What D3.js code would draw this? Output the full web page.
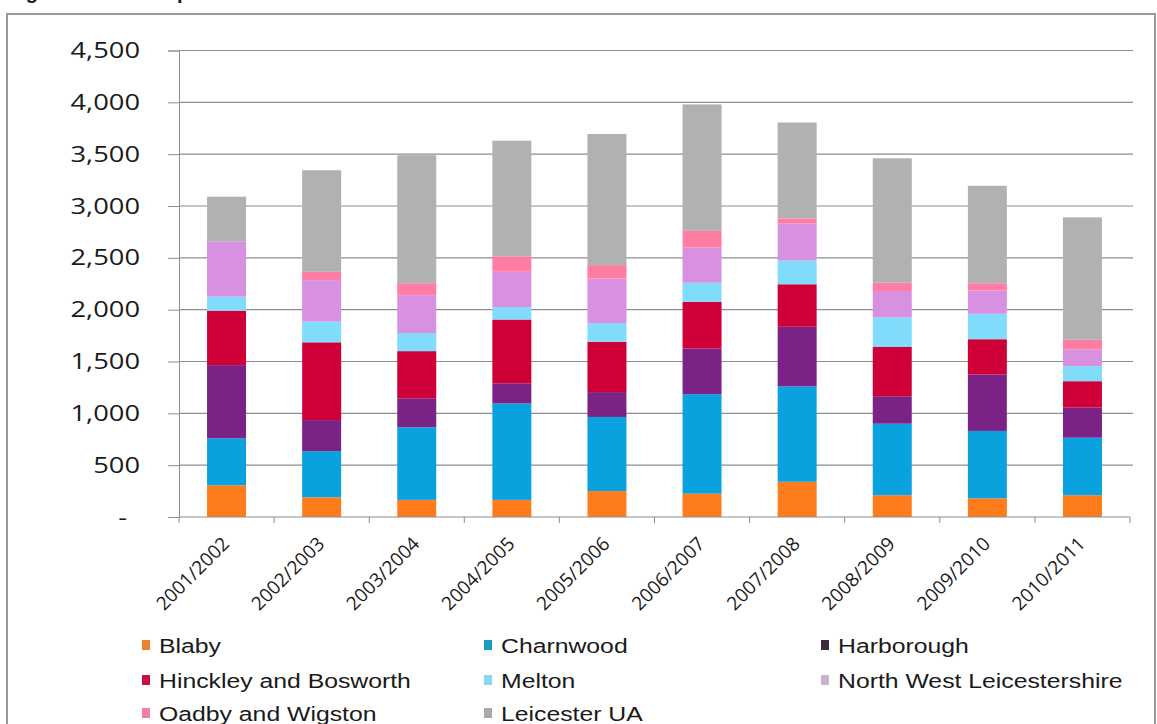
<!DOCTYPE html>
<html>
<head>
<meta charset="utf-8">
<script src="https://cdn.jsdelivr.net/npm/d3@7"></script>
<style>
  body { margin: 0; background: #fff; }
  text { font-family: "Open Sans", "Liberation Sans", sans-serif; fill: #1a1a1a; }
</style>
</head>
<body>
<svg id="chart" width="1157" height="724"></svg>
<script>
// completions per district
const years = ["2001/2002", "2002/2003", "2003/2004", "2004/2005", "2005/2006",
               "2006/2007", "2007/2008", "2008/2009", "2009/2010", "2010/2011"];
const blaby      = [305, 190, 165, 165, 250, 225, 340, 210, 180, 210];
const charnwood  = [455, 445, 700, 930, 715, 960, 920, 690, 650, 555];
const harborough = [705, 300, 280, 195, 240, 440, 575, 265, 545, 290];
const hinckley   = [525, 750, 455, 615, 485, 450, 410, 475, 340, 255];
const melton     = [135, 200, 175, 120, 180, 185, 230, 285, 245, 145];
const nwLeics    = [535, 400, 365, 340, 430, 340, 355, 255, 225, 160];
const oadby      = [0, 80, 115, 150, 130, 160, 50, 80, 70, 95];
const leicester  = [430, 980, 1235, 1115, 1265, 1220, 925, 1200, 940, 1180];

const names  = ["Blaby", "Charnwood", "Harborough", "Hinckley and Bosworth", "Melton",
                "North West Leicestershire", "Oadby and Wigston", "Leicester UA"];
const series = [blaby, charnwood, harborough, hinckley, melton, nwLeics, oadby, leicester];
const colors = ["#ff7c1c", "#0aa2de", "#7b2287", "#cf0038", "#80dcfa", "#d890e0", "#ff7da2", "#b1b1b1"];
const legendColors = ["#f08028", "#1a9cc0", "#3b2a3b", "#c8103c", "#8ad8f0", "#c8b4cc", "#f27ea0", "#a8a8a8"];
const yTicks = [0, 500, 1000, 1500, 2000, 2500, 3000, 3500, 4000, 4500];

const rows = years.map((yr, i) => {
  const r = { year: yr };
  names.forEach((n, k) => r[n] = series[k][i]);
  return r;
});
const stacked = d3.stack().keys(names)(rows);

const svg = d3.select("#chart");
const plotLeft = 179, plotRight = 1130, plotTop = 50.5, plotBottom = 517;

const x = d3.scaleBand().domain(years).range([plotLeft, plotRight]).paddingInner(0.59).paddingOuter(0.295);
const y = d3.scaleLinear().domain([0, 4500]).range([plotBottom, plotTop]);

// title sits mostly above the page edge, as in the source; frame
svg.append("text").attr("x", 8).attr("y", -1)
  .style("font-family", "Liberation Sans").style("font-weight", "bold").style("font-size", "20px")
  .text("Figure 1: Net completions");
svg.append("rect").attr("x", 7).attr("y", 14).attr("width", 1148).attr("height", 730)
  .attr("fill", "none").attr("stroke", "#9a9a9a").attr("stroke-width", 2);

// gridlines
svg.append("g").selectAll("line").data(yTicks.slice(1)).join("line")
  .attr("x1", plotLeft).attr("x2", plotRight + 3)
  .attr("y1", d => y(d)).attr("y2", d => y(d))
  .attr("stroke", "#8e8e8e").attr("stroke-width", 1.2);

// y axis
const yAxis = svg.append("g").attr("transform", `translate(${plotLeft},0)`)
  .call(d3.axisLeft(y).tickValues(yTicks).tickSize(11).tickFormat(() => ""));
yAxis.select(".domain").attr("stroke", "#8e8e8e");
yAxis.selectAll(".tick line").attr("stroke", "#8e8e8e");

svg.append("g").selectAll("text").data(yTicks).join("text")
  .attr("transform", d => `translate(${d === 0 ? 127 : 140},${y(d)}) scale(1.3,1)`)
  .attr("text-anchor", "end").attr("dy", "0.36em")
  .style("font-size", "21px")
  .text(d => d === 0 ? "-" : d3.format(",")(d));

// bars
svg.append("g").selectAll("g").data(stacked).join("g")
  .attr("fill", (d, i) => colors[i])
  .selectAll("rect").data(d => d).join("rect")
  .attr("x", d => x(d.data.year))
  .attr("width", x.bandwidth())
  .attr("y", d => y(d[1]))
  .attr("height", d => y(d[0]) - y(d[1]));

// x axis
const xAxis = svg.append("g").attr("transform", `translate(0,${plotBottom})`);
xAxis.append("line").attr("x1", plotLeft).attr("x2", plotRight).attr("stroke", "#8e8e8e").attr("stroke-width", 1.2);
xAxis.selectAll("line.tk").data(d3.range(years.length + 1)).join("line")
  .attr("class", "tk")
  .attr("x1", i => plotLeft + i * x.step()).attr("x2", i => plotLeft + i * x.step())
  .attr("y1", 0).attr("y2", 6).attr("stroke", "#8e8e8e");
xAxis.selectAll("text").data(years).join("text")
  .attr("transform", d => `translate(${x(d) + x.bandwidth() / 2 + 4},${28}) rotate(-45)`)
  .attr("text-anchor", "end")
  .style("font-size", "19px")
  .text(d => d);

// legend
const legend = svg.append("g");
const colX = [142, 484, 821], rowY = [645, 680, 713];
names.forEach((n, i) => {
  const cx = colX[i % 3], cy = rowY[Math.floor(i / 3)];
  legend.append("rect").attr("x", cx).attr("y", cy - 5).attr("width", 8).attr("height", 10)
    .attr("fill", legendColors[i]);
  legend.append("text")
    .attr("transform", `translate(${cx + 17},${cy + 7.5}) scale(1.18,1)`)
    .style("font-family", "Liberation Sans").style("font-size", "21px")
    .text(n);
});
</script>
</body>
</html>
